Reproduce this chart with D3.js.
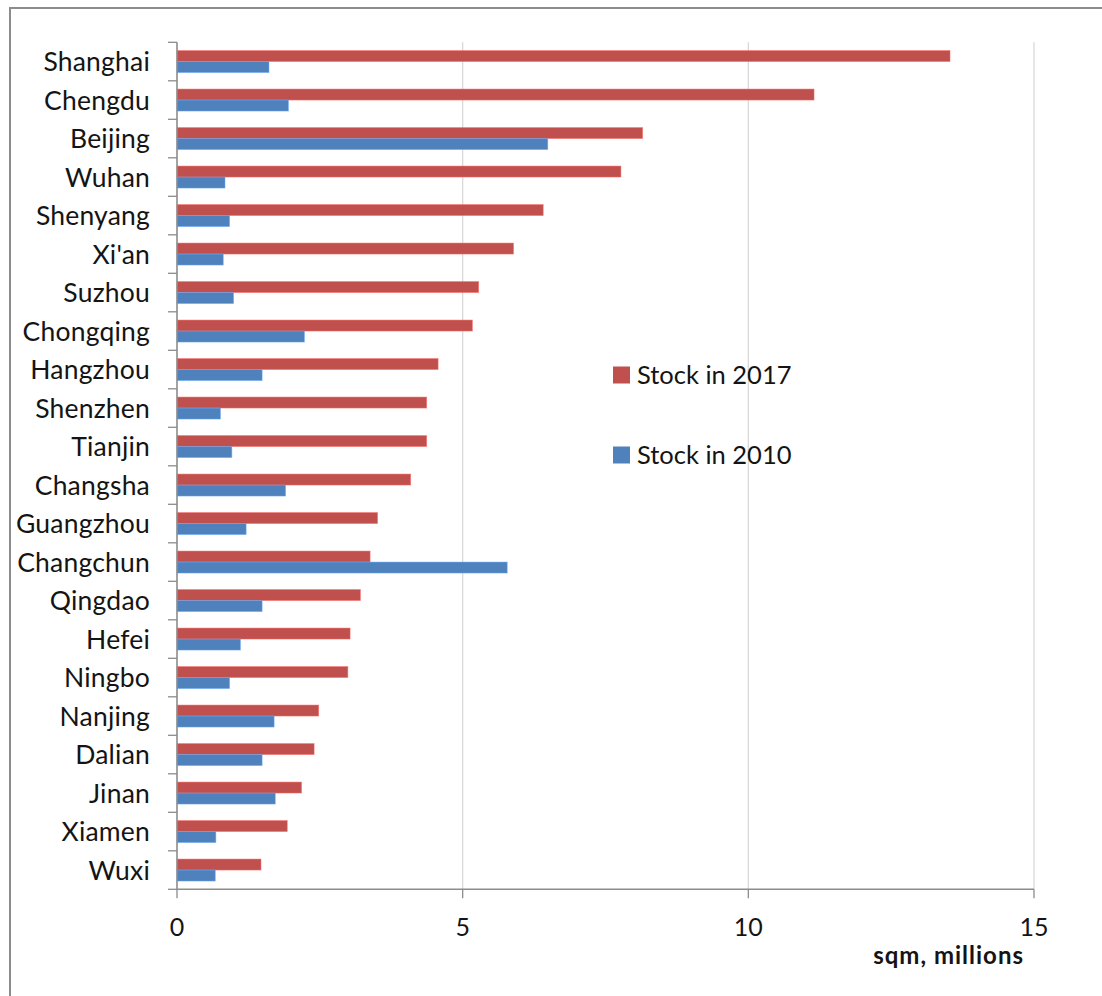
<!DOCTYPE html>
<html>
<head>
<meta charset="utf-8">
<script src="https://cdn.jsdelivr.net/npm/d3@7"></script>
<style>
  html, body { margin: 0; padding: 0; background: #fff; }
  svg { display: block; }
  text { font-family: Lato, "Open Sans", sans-serif; fill: #141414; }
</style>
</head>
<body>
<svg id="chart" width="1102" height="996"></svg>
<script>
// Office stock by city, sqm millions
const cities = ["Shanghai", "Chengdu", "Beijing", "Wuhan", "Shenyang", "Xi'an", "Suzhou",
  "Chongqing", "Hangzhou", "Shenzhen", "Tianjin", "Changsha", "Guangzhou", "Changchun",
  "Qingdao", "Hefei", "Ningbo", "Nanjing", "Dalian", "Jinan", "Xiamen", "Wuxi"];
const stock2017 = [13.53, 11.15, 8.15, 7.77, 6.41, 5.89, 5.28, 5.17, 4.57, 4.37, 4.37, 4.09,
  3.51, 3.38, 3.21, 3.03, 2.99, 2.48, 2.40, 2.18, 1.93, 1.47];
const stock2010 = [1.61, 1.95, 6.49, 0.84, 0.92, 0.81, 0.99, 2.23, 1.49, 0.76, 0.96, 1.90,
  1.21, 5.78, 1.49, 1.11, 0.92, 1.70, 1.49, 1.72, 0.68, 0.67];
const seriesNames = ["Stock in 2017", "Stock in 2010"];
const seriesColors = ["#C0504D", "#4F81BD"];
const xTicks = [0, 5, 10, 15];
const xTitle = "sqm, millions";

const svg = d3.select("#chart");

// outer frame (only top and left edges fall inside the view)
svg.append("rect")
  .attr("x", 10).attr("y", 8)
  .attr("width", 1200).attr("height", 1100)
  .attr("fill", "none").attr("stroke", "#8c8c8c").attr("stroke-width", 2);

const plotLeft = 177, plotRight = 1034, plotTop = 42.3, plotBottom = 889.3;

const x = d3.scaleLinear().domain([0, 15]).range([plotLeft, plotRight]);
const y = d3.scaleBand().domain(cities).range([plotTop, plotBottom]).paddingInner(0).paddingOuter(0);
const inner = d3.scaleBand().domain(seriesNames).range([0, y.bandwidth()])
  .paddingInner(0).paddingOuter(0.75);

// vertical gridlines
svg.append("g").selectAll("line")
  .data(xTicks.filter(d => d > 0))
  .join("line")
  .attr("x1", d => x(d)).attr("x2", d => x(d))
  .attr("y1", plotTop).attr("y2", plotBottom)
  .attr("stroke", "#d9d9d9").attr("stroke-width", 1.3);

// bars
const rows = cities.map((c, i) => ({ city: c, values: [stock2017[i], stock2010[i]] }));
const group = svg.append("g").selectAll("g")
  .data(rows)
  .join("g")
  .attr("transform", d => `translate(0,${y(d.city)})`);

group.selectAll("rect")
  .data(d => d.values.map((v, k) => ({ name: seriesNames[k], value: v, color: seriesColors[k] })))
  .join("rect")
  .attr("x", x(0))
  .attr("y", d => inner(d.name))
  .attr("width", d => x(d.value) - x(0))
  .attr("height", inner.bandwidth())
  .attr("fill", d => d.color)
  .attr("stroke", d => d3.color(d.color).brighter(0.8))
  .attr("stroke-opacity", 0.6)
  .attr("stroke-width", 0.8);

// y axis: line, ticks between categories, labels
const axisColor = "#8c8c8c";
svg.append("line")
  .attr("x1", plotLeft).attr("x2", plotLeft)
  .attr("y1", plotTop).attr("y2", plotBottom)
  .attr("stroke", axisColor).attr("stroke-width", 1.6);

const boundaries = cities.map(c => y(c)).concat([plotBottom]);
svg.append("g").selectAll("line")
  .data(boundaries)
  .join("line")
  .attr("x1", plotLeft - 9).attr("x2", plotLeft)
  .attr("y1", d => d).attr("y2", d => d)
  .attr("stroke", axisColor).attr("stroke-width", 1.3);

svg.append("g").selectAll("text")
  .data(cities)
  .join("text")
  .attr("x", 150)
  .attr("y", d => y(d) + y.bandwidth() / 2)
  .attr("dy", "0.36em")
  .attr("text-anchor", "end")
  .attr("font-size", 26.5)
  .attr("letter-spacing", 0.2)
  .text(d => d);

// x axis
svg.append("line")
  .attr("x1", plotLeft).attr("x2", plotRight)
  .attr("y1", plotBottom).attr("y2", plotBottom)
  .attr("stroke", axisColor).attr("stroke-width", 1.6);

svg.append("g").selectAll("line")
  .data(xTicks)
  .join("line")
  .attr("x1", d => x(d)).attr("x2", d => x(d))
  .attr("y1", plotBottom).attr("y2", plotBottom + 9)
  .attr("stroke", axisColor).attr("stroke-width", 1.3);

svg.append("g").selectAll("text")
  .data(xTicks)
  .join("text")
  .attr("x", d => x(d))
  .attr("y", 927)
  .attr("dy", "0.36em")
  .attr("text-anchor", "middle")
  .attr("font-size", 25)
  .text(d => d);

svg.append("text")
  .attr("x", 1024)
  .attr("y", 955)
  .attr("dy", "0.36em")
  .attr("text-anchor", "end")
  .attr("font-size", 24)
  .attr("font-weight", "bold")
  .attr("letter-spacing", 1)
  .text(xTitle);

// legend
const legend = svg.append("g").selectAll("g")
  .data(seriesNames)
  .join("g")
  .attr("transform", (d, i) => `translate(613,${375 + i * 80})`);

legend.append("rect")
  .attr("x", 0).attr("y", -8.5)
  .attr("width", 17).attr("height", 17)
  .attr("fill", (d, i) => seriesColors[i]);

legend.append("text")
  .attr("x", 24).attr("y", 0)
  .attr("dy", "0.36em")
  .attr("font-size", 25.5)
  .text(d => d);
</script>
</body>
</html>
